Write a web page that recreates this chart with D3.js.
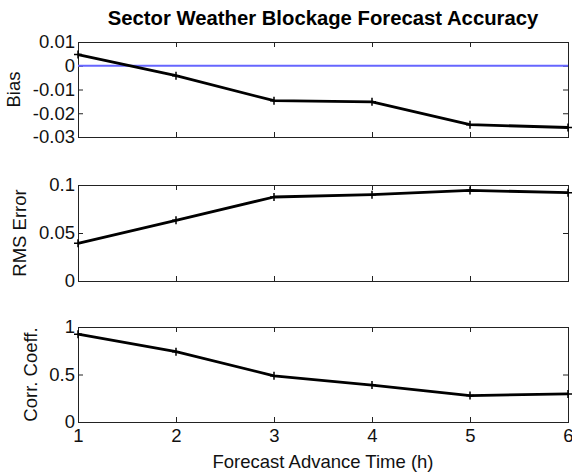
<!DOCTYPE html>
<html>
<head>
<meta charset="utf-8">
<script src="https://cdn.jsdelivr.net/npm/d3@7"></script>
<style>
  html, body { margin: 0; padding: 0; background: #fff; }
  svg { display: block; font-family: "Liberation Sans", Arial, Helvetica, sans-serif; }
</style>
</head>
<body>
<svg id="chart" width="572" height="475"></svg>
<script>
// Forecast lead times (hours)
const hours = [1, 2, 3, 4, 5, 6];

// Accuracy metrics per lead time
const bias = [0.0047, -0.0042, -0.0147, -0.0152, -0.0248, -0.026];
const rmsError = [0.0392, 0.0632, 0.0875, 0.0899, 0.0944, 0.092];
const corrCoeff = [0.924, 0.74, 0.486, 0.389, 0.278, 0.295];

// Axis ticks
const hourTicks = [1, 2, 3, 4, 5, 6];
const biasTicks = [-0.03, -0.02, -0.01, 0, 0.01];
const rmsTicks = [0, 0.05, 0.1];
const corrTicks = [0, 0.5, 1];

const titleText = "Sector Weather Blockage Forecast Accuracy";
const xLabelText = "Forecast Advance Time (h)";

const panels = [
  { label: "Bias", values: bias, domain: [-0.03, 0.01], ticks: biasTicks, zeroLine: true, top: 42, bottom: 137 },
  { label: "RMS Error", values: rmsError, domain: [0, 0.1], ticks: rmsTicks, zeroLine: false, top: 185, bottom: 281 },
  { label: "Corr. Coeff.", values: corrCoeff, domain: [0, 1], ticks: corrTicks, zeroLine: false, top: 327, bottom: 422 }
];

const left = 78, right = 568;
const fontSize = 18.5;
const svg = d3.select("#chart");

const x = d3.scaleLinear().domain([1, 6]).range([left, right]);
const fmt = v => String(+v.toFixed(4));

svg.append("text")
  .attr("x", (left + right) / 2)
  .attr("y", 25)
  .attr("text-anchor", "middle")
  .attr("font-size", 20.3)
  .attr("font-weight", "bold")
  .attr("fill", "#000")
  .text(titleText);

panels.forEach((p, i) => {
  const y = d3.scaleLinear().domain(p.domain).range([p.bottom, p.top]);
  const g = svg.append("g");
  const isLast = i === panels.length - 1;

  // inward ticks on all four sides
  const leftAxis = g.append("g").attr("transform", `translate(${left},0)`)
    .call(d3.axisLeft(y).tickValues(p.ticks).tickSize(-5).tickSizeOuter(0).tickPadding(3).tickFormat(fmt));
  g.append("g").attr("transform", `translate(${right},0)`)
    .call(d3.axisRight(y).tickValues(p.ticks).tickSize(-5).tickSizeOuter(0).tickFormat(""));
  g.append("g").attr("transform", `translate(0,${p.top})`)
    .call(d3.axisTop(x).tickValues(hourTicks).tickSize(-5).tickSizeOuter(0).tickFormat(""));
  g.append("g").attr("transform", `translate(0,${p.bottom})`)
    .call(d3.axisBottom(x).tickValues(hourTicks).tickSize(-5).tickSizeOuter(0).tickPadding(7)
      .tickFormat(isLast ? d3.format("d") : ""));

  g.selectAll(".domain").remove();
  g.selectAll(".tick line").attr("stroke", "#222").attr("stroke-width", 1);
  g.selectAll(".tick text").attr("font-size", fontSize).attr("font-family", null).attr("fill", "#111");

  g.append("rect")
    .attr("x", left + 0.5).attr("y", p.top + 0.5)
    .attr("width", right - left).attr("height", p.bottom - p.top)
    .attr("fill", "none").attr("stroke", "#222").attr("stroke-width", 1);

  if (p.zeroLine) {
    g.append("line")
      .attr("x1", left).attr("x2", right)
      .attr("y1", y(0)).attr("y2", y(0))
      .attr("stroke", "#6666ff").attr("stroke-width", 2);
  }

  const pts = hours.map((h, k) => [x(h), y(p.values[k])]);
  g.append("path")
    .attr("d", d3.line()(pts))
    .attr("fill", "none").attr("stroke", "#000").attr("stroke-width", 2.8)
    .attr("stroke-linejoin", "round");

  g.selectAll(".mark").data(pts).enter().append("path")
    .attr("d", d => `M${d[0] - 4},${d[1]}H${d[0] + 4}M${d[0]},${d[1] - 4}V${d[1] + 4}`)
    .attr("stroke", "#000").attr("stroke-width", 1.5);

  // y label sits left of the widest tick label
  let minX = left;
  leftAxis.selectAll(".tick text").each(function () {
    minX = Math.min(minX, left + this.getBBox().x);
  });
  svg.append("text")
    .attr("transform", `translate(${minX - 19},${(p.top + p.bottom) / 2}) rotate(-90)`)
    .attr("text-anchor", "middle")
    .attr("dy", "0.35em")
    .attr("font-size", fontSize)
    .attr("fill", "#111")
    .text(p.label);
});

svg.append("text")
  .attr("x", (left + right) / 2)
  .attr("y", 468)
  .attr("text-anchor", "middle")
  .attr("font-size", fontSize)
  .attr("fill", "#111")
  .text(xLabelText);
</script>
</body>
</html>
